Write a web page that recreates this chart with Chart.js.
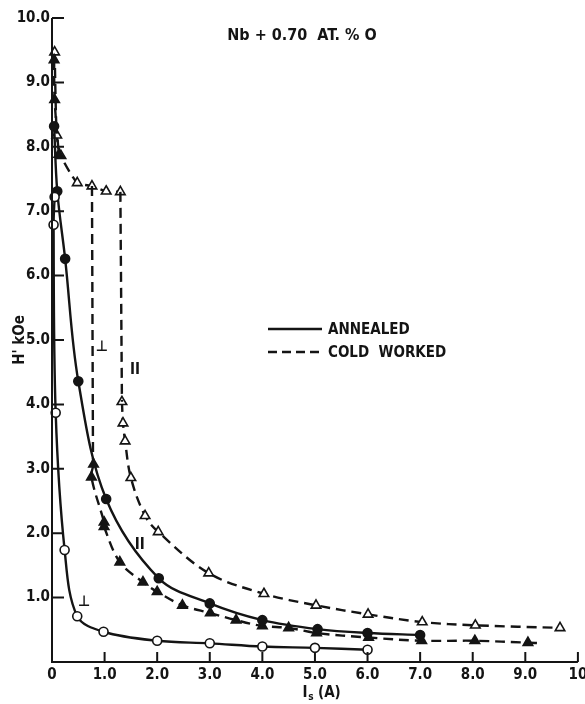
<!DOCTYPE html>
<html>
<head>
<meta charset="utf-8">
<script src="https://cdn.jsdelivr.net/npm/chart.js@4.4.1/dist/chart.umd.min.js"></script>
<style>
  html, body { margin: 0; padding: 0; background: #fff; }
  #wrap { width: 585px; height: 704px; }
</style>
</head>
<body>
<div id="wrap"><canvas id="chart" width="585" height="704"></canvas></div>
<script>
// axis ticks
var xTicks = [0, 1, 2, 3, 4, 5, 6, 7, 8, 9, 10];
var xTickLabels = ["0", "1.0", "2.0", "3.0", "4.0", "5.0", "6.0", "7.0", "8.0", "9.0", "10"];
var yTicks = [1, 2, 3, 4, 5, 6, 7, 8, 9, 10];
var yTickLabels = ["1.0", "2.0", "3.0", "4.0", "5.0", "6.0", "7.0", "8.0", "9.0", "10.0"];

// annealed, perpendicular (open circles)
var annPerpX = [0.05, 0.03, 0.07, 0.24, 0.48, 0.98, 2.0, 3.0, 4.0, 5.0, 6.0];
var annPerpY = [7.22, 6.79, 3.87, 1.74, 0.71, 0.47, 0.33, 0.29, 0.24, 0.22, 0.19];

// annealed, parallel (filled circles)
var annParX = [0.04, 0.1, 0.25, 0.5, 1.03, 2.03, 3.0, 4.0, 5.05, 6.0, 7.0];
var annParY = [8.32, 7.31, 6.26, 4.36, 2.53, 1.30, 0.91, 0.65, 0.51, 0.45, 0.42];

// cold worked, perpendicular (filled triangles) - top part
var cwPerpTopX = [0.04, 0.05, 0.13];
var cwPerpTopY = [9.35, 8.73, 7.88];
// cold worked, perpendicular - bottom part
var cwPerpX = [0.79, 0.75, 0.99, 0.99, 1.29, 1.73, 2.0, 2.48, 3.01, 3.5, 4.0, 4.5, 5.03, 6.02, 7.03, 8.04, 9.05, 9.33];
var cwPerpY = [3.07, 2.87, 2.17, 2.10, 1.55, 1.24, 1.09, 0.88, 0.76, 0.65, 0.56, 0.53, 0.45, 0.38, 0.33, 0.33, 0.30, 0.29];
var cwPerpMarked = [1, 1, 1, 1, 1, 1, 1, 1, 1, 1, 1, 1, 1, 1, 1, 1, 1, 0];

// cold worked, parallel (open triangles) - plateau part
var cwParTopX = [0.05, 0.09, 0.17, 0.48, 0.76, 1.03, 1.3];
var cwParTopY = [9.47, 8.18, 7.86, 7.44, 7.39, 7.31, 7.30];
// cold worked, parallel - bottom part
var cwParX = [1.33, 1.35, 1.39, 1.5, 1.77, 2.02, 2.98, 4.03, 5.02, 6.01, 7.04, 8.05, 9.66];
var cwParY = [4.04, 3.71, 3.43, 2.86, 2.27, 2.02, 1.38, 1.06, 0.88, 0.74, 0.62, 0.57, 0.53];

// vertical drops from the plateau
var dropPerpX = [0.76, 0.78];
var dropPerpY = [7.39, 3.07];
var dropParX = [1.3, 1.33];
var dropParY = [7.30, 4.04];

// small curve labels: text, x, y
var noteText = ["\u22A5", "II", "II", "\u22A5"];
var noteX = [0.95, 1.58, 1.67, 0.61];
var noteY = [4.89, 4.53, 1.82, 0.93];

var FONT = "'DejaVu Sans Condensed', 'Liberation Sans Narrow', 'DejaVu Sans', sans-serif";
var INK = "#141414";

function pts(xs, ys) {
  return xs.map(function (x, i) { return { x: x, y: ys[i] }; });
}

function curve(xs, ys, opts) {
  var ds = {
    data: pts(xs, ys),
    showLine: true,
    borderColor: INK,
    borderWidth: 2.4,
    tension: 0.35,
    pointRadius: 0,
    pointBorderColor: INK,
    pointBorderWidth: 1.6,
    clip: false
  };
  for (var k in opts) ds[k] = opts[k];
  return ds;
}

var dashed = [10, 6];

var datasets = [
  curve(annPerpX, annPerpY, { pointStyle: "circle", pointRadius: 4.5, pointBackgroundColor: "#fff" }),
  curve(annParX, annParY, { pointStyle: "circle", pointRadius: 4.5, pointBackgroundColor: INK }),
  curve(dropPerpX, dropPerpY, { borderDash: dashed, tension: 0 }),
  curve(dropParX, dropParY, { borderDash: dashed, tension: 0 }),
  curve(cwPerpTopX, cwPerpTopY, { borderDash: dashed, pointStyle: "triangle", pointRadius: 5.5, pointBackgroundColor: INK }),
  curve(cwParTopX, cwParTopY, { borderDash: dashed, tension: 0.2, pointStyle: "triangle", pointRadius: 5.5, pointBackgroundColor: "#fff" }),
  curve(cwPerpX, cwPerpY, { borderDash: dashed, pointStyle: "triangle", pointBackgroundColor: INK,
    pointRadius: cwPerpMarked.map(function (m) { return m ? 5.5 : 0; }) }),
  curve(cwParX, cwParY, { borderDash: dashed, pointStyle: "triangle", pointRadius: 5.5, pointBackgroundColor: "#fff" })
];

var decor = {
  id: "decor",
  afterDraw: function (chart) {
    var ctx = chart.ctx;
    var xs = chart.scales.x, ys = chart.scales.y;
    var x0 = xs.getPixelForValue(0), y0 = ys.getPixelForValue(0);
    var x10 = xs.getPixelForValue(10), y10 = ys.getPixelForValue(10);
    ctx.save();
    ctx.strokeStyle = INK;
    ctx.fillStyle = INK;
    ctx.lineWidth = 2;
    ctx.setLineDash([]);

    // axes
    ctx.beginPath();
    ctx.moveTo(x0, y10);
    ctx.lineTo(x0, y0);
    ctx.lineTo(x10, y0);
    ctx.stroke();

    // inward ticks
    ctx.beginPath();
    yTicks.forEach(function (v) {
      var py = ys.getPixelForValue(v);
      ctx.moveTo(x0, py);
      ctx.lineTo(x0 + 12, py);
    });
    xTicks.forEach(function (v) {
      if (v === 0) return;
      var px = xs.getPixelForValue(v);
      ctx.moveTo(px, y0);
      ctx.lineTo(px, y0 - 10);
    });
    ctx.stroke();

    // tick labels
    ctx.font = "bold 15px " + FONT;
    ctx.textAlign = "right";
    ctx.textBaseline = "middle";
    yTicks.forEach(function (v, i) {
      ctx.fillText(yTickLabels[i], x0 - 2, ys.getPixelForValue(v));
    });
    ctx.textAlign = "center";
    ctx.textBaseline = "middle";
    xTicks.forEach(function (v, i) {
      ctx.fillText(xTickLabels[i], xs.getPixelForValue(v), y0 + 13);
    });

    // axis titles
    ctx.font = "bold 15px " + FONT;
    ctx.fillText("I", 305, 693);
    ctx.font = "bold 10px " + FONT;
    ctx.fillText("s", 311, 697);
    ctx.font = "bold 15px " + FONT;
    ctx.textAlign = "left";
    ctx.fillText("(A)", 318, 693);

    ctx.save();
    ctx.translate(20, 340);
    ctx.rotate(-Math.PI / 2);
    ctx.textAlign = "center";
    ctx.font = "bold 15px " + FONT;
    ctx.fillText("H' kOe", 0, 0);
    ctx.restore();

    // title
    ctx.textAlign = "center";
    ctx.font = "bold 16px " + FONT;
    ctx.fillText("Nb + 0.70  AT. % O", 302, 36);

    // legend
    ctx.lineWidth = 2.4;
    ctx.beginPath();
    ctx.moveTo(268, 329);
    ctx.lineTo(322, 329);
    ctx.stroke();
    ctx.setLineDash([9, 5]);
    ctx.beginPath();
    ctx.moveTo(268, 352);
    ctx.lineTo(322, 352);
    ctx.stroke();
    ctx.setLineDash([]);
    ctx.textAlign = "left";
    ctx.font = "bold 15px " + FONT;
    ctx.fillText("ANNEALED", 328, 330);
    ctx.fillText("COLD  WORKED", 328, 353);

    // curve labels
    ctx.textAlign = "center";
    ctx.font = "bold 15px " + FONT;
    noteText.forEach(function (t, i) {
      ctx.fillText(t, xs.getPixelForValue(noteX[i]), ys.getPixelForValue(noteY[i]));
    });
    ctx.restore();
  }
};

new Chart(document.getElementById("chart"), {
  type: "scatter",
  data: { datasets: datasets },
  options: {
    responsive: false,
    animation: false,
    devicePixelRatio: 1,
    layout: { padding: { top: 18, right: 7, left: 0, bottom: 0 } },
    plugins: { legend: { display: false }, tooltip: { enabled: false } },
    scales: {
      x: {
        type: "linear", min: 0, max: 10,
        grid: { display: false }, border: { display: false },
        ticks: { display: false },
        afterFit: function (s) { s.height = 42; }
      },
      y: {
        type: "linear", min: 0, max: 10,
        grid: { display: false }, border: { display: false },
        ticks: { display: false },
        afterFit: function (s) { s.width = 52; }
      }
    }
  },
  plugins: [decor]
});
</script>
</body>
</html>
